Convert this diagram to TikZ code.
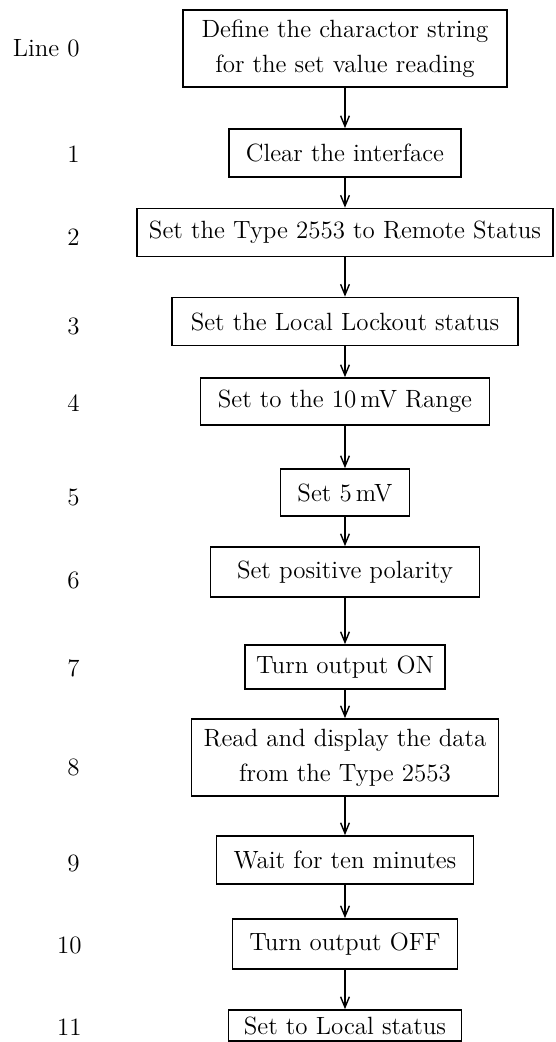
\documentclass[tikz,border=0pt]{standalone}
\usepackage{tikz}
\usetikzlibrary{arrows.meta}

\begin{document}
\begin{tikzpicture}[x=0.02cm, y=-0.02cm, font=\fontsize{14.2}{20}\selectfont]
    \tikzstyle{stepbox}=[rectangle, draw=black, line width=1pt, align=center, minimum height=0.96cm, inner sep=2pt]
    \tikzstyle{connect}=[-{Straight Barb[length=6pt, width=5pt]}, line width=0.8pt]
    \tikzstyle{linenum}=[anchor=east, inner sep=0pt]

    \useasboundingbox (0,0) rectangle (555,1042);

      \node[stepbox, minimum width=6.48cm, minimum height=1.54cm] (define) at (345,48.5) {Define the charactor string\\for the set value reading};
      \node[stepbox, minimum width=4.64cm] (clear) at (345,153) {Clear the interface};
      \node[stepbox, minimum width=8.32cm] (remote) at (345,232.5) {Set the Type 2553 to Remote Status};
      \node[stepbox, minimum width=6.92cm] (lockout) at (345,321.5) {Set the Local Lockout status};
      \node[stepbox, minimum width=5.78cm, minimum height=0.94cm] (range) at (345,401.5) {Set to the 10\,mV Range};
      \node[stepbox, minimum width=2.58cm, minimum height=0.94cm] (setmv) at (345,492.5) {Set 5\,mV};
      \node[stepbox, minimum width=5.38cm, minimum height=1cm] (polarity) at (345,572) {Set positive polarity};
      \node[stepbox, minimum width=4cm, minimum height=0.88cm] (outon) at (345,667) {Turn output ON};
      \node[stepbox, minimum width=6.14cm, minimum height=1.54cm] (readdata) at (345,757.5) {Read and display the data\\from the Type 2553};
      \node[stepbox, minimum width=5.14cm] (wait) at (345,860) {Wait for ten minutes};
      \node[stepbox, minimum width=4.5cm, minimum height=1cm] (outoff) at (345,944) {Turn output OFF};
      \node[stepbox, minimum width=4.66cm, minimum height=0.62cm, inner sep=1pt] (local) at (345,1025.5) {Set to Local status};

      \node[linenum] (l0) at (80,48) {Line 0};
      \node[linenum] (l1) at (80,154) {1};
      \node[linenum] (l2) at (80,237) {2};
      \node[linenum] (l3) at (80,326) {3};
      \node[linenum] (l4) at (80,403) {4};
      \node[linenum] (l5) at (80,497) {5};
      \node[linenum] (l6) at (80,580) {6};
      \node[linenum] (l7) at (80,668) {7};
      \node[linenum] (l8) at (80,767) {8};
      \node[linenum] (l9) at (80,863) {9};
      \node[linenum] (l10) at (82,945) {10};
      \node[linenum] (l11) at (82,1027) {11};

      \path
        (define) edge [connect] (clear)
        (clear) edge [connect] (remote)
        (remote) edge [connect] (lockout)
        (lockout) edge [connect] (range)
        (range) edge [connect] (setmv)
        (setmv) edge [connect] (polarity)
        (polarity) edge [connect] (outon)
        (outon) edge [connect] (readdata)
        (readdata) edge [connect] (wait)
        (wait) edge [connect] (outoff)
        (outoff) edge [connect] (local);
\end{tikzpicture}
\end{document}
